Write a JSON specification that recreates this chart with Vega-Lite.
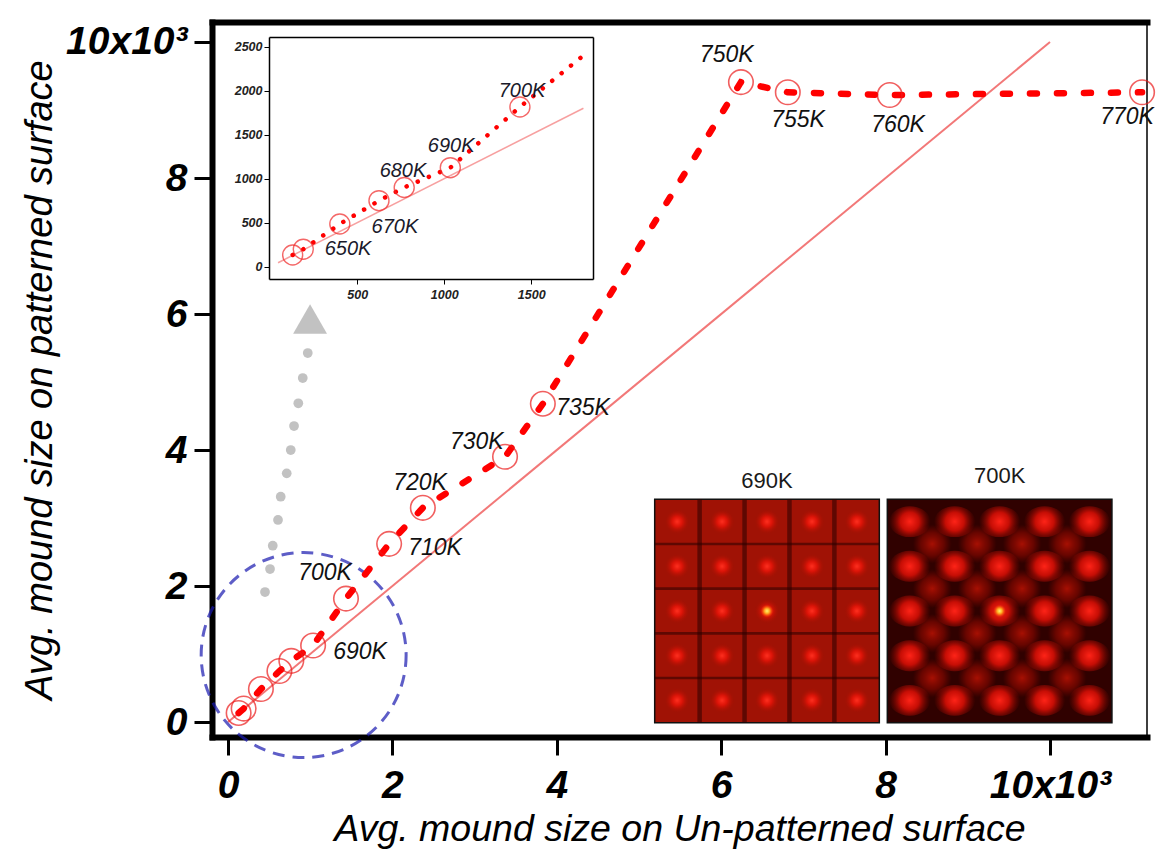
{
  "$schema": "https://vega.github.io/schema/vega-lite/v6.json",
  "width": 935,
  "height": 715,
  "autosize": {"type": "none"},
  "padding": {"left": 212, "top": 22, "right": 9, "bottom": 124},
  "background": "white",
  "config": {
    "view": {"stroke": "#000", "strokeWidth": 1.5},
    "font": "Liberation Sans",
    "axis": {"grid": false}
  },
  "datasets": {
    "pts": [
      {"temp": "640K", "x": 129, "y": 133},
      {"temp": "650K", "x": 190, "y": 198},
      {"temp": "660K", "x": 400, "y": 485},
      {"temp": "670K", "x": 625, "y": 750},
      {"temp": "680K", "x": 770, "y": 900},
      {"temp": "690K", "x": 1035, "y": 1125},
      {"temp": "700K", "x": 1435, "y": 1815},
      {"temp": "710K", "x": 1960, "y": 2620},
      {"temp": "720K", "x": 2370, "y": 3150},
      {"temp": "730K", "x": 3370, "y": 3900},
      {"temp": "735K", "x": 3830, "y": 4680},
      {"temp": "750K", "x": 6240, "y": 9410},
      {"temp": "755K", "x": 6810, "y": 9260},
      {"temp": "760K", "x": 8050, "y": 9220},
      {"temp": "770K", "x": 11120, "y": 9260}
    ],
    "insetLine": [
      {"x": 129, "y": 133},
      {"x": 190, "y": 198},
      {"x": 400, "y": 485},
      {"x": 625, "y": 750},
      {"x": 770, "y": 900},
      {"x": 1035, "y": 1125},
      {"x": 1435, "y": 1815},
      {"x": 1800, "y": 2400}
    ],
    "mainLabels": [
      {"label": "690K", "x": 1606, "y": 1029},
      {"label": "700K", "x": 1180, "y": 2191},
      {"label": "710K", "x": 2518, "y": 2559},
      {"label": "720K", "x": 2336, "y": 3515},
      {"label": "730K", "x": 3026, "y": 4122},
      {"label": "735K", "x": 4319, "y": 4618},
      {"label": "750K", "x": 6067, "y": 9809},
      {"label": "755K", "x": 6934, "y": 8853},
      {"label": "760K", "x": 8151, "y": 8779},
      {"label": "770K", "x": 10937, "y": 8897}
    ],
    "insetLabels": [
      {"label": "650K", "x": 447, "y": 201},
      {"label": "670K", "x": 717, "y": 451},
      {"label": "680K", "x": 763, "y": 1091},
      {"label": "690K", "x": 1040, "y": 1372},
      {"label": "700K", "x": 1447, "y": 2000}
    ],
    "diag": [{"x": 0, "y": 0}, {"x": 10000, "y": 10000}],
    "insetDiag": [{"x": 45, "y": 45}, {"x": 1800, "y": 1800}],
    "zoom": [{"x": 920, "y": 985}],
    "arrowDots": [
      {"x": 450, "y": 1912}, {"x": 511, "y": 2250}, {"x": 544, "y": 2593},
      {"x": 608, "y": 2971}, {"x": 641, "y": 3313}, {"x": 714, "y": 3657},
      {"x": 763, "y": 4000}, {"x": 803, "y": 4353}, {"x": 855, "y": 4687},
      {"x": 909, "y": 5059}, {"x": 970, "y": 5426}
    ],
    "arrowHead": [{"x": 998, "y": 5926}],
    "panels": [
      {"panel": "690K", "u0": 0, "u1": 5, "v0": 0, "v1": 5, "lu": 2.5, "lv": 5.42},
      {"panel": "700K", "u0": 5.178, "u1": 10.178, "v0": 0, "v1": 5, "lu": 7.678, "lv": 5.52}
    ],
    "p1lines": [
      {"u0": 0.95, "u1": 1.05, "v0": 0, "v1": 5},
      {"u0": 1.95, "u1": 2.05, "v0": 0, "v1": 5},
      {"u0": 2.95, "u1": 3.05, "v0": 0, "v1": 5},
      {"u0": 3.95, "u1": 4.05, "v0": 0, "v1": 5},
      {"u0": 0, "u1": 5, "v0": 0.97, "v1": 1.03},
      {"u0": 0, "u1": 5, "v0": 1.97, "v1": 2.03},
      {"u0": 0, "u1": 5, "v0": 2.97, "v1": 3.03},
      {"u0": 0, "u1": 5, "v0": 3.97, "v1": 4.03}
    ],
    "p2corners": [
      {"u": 6.178, "v": 1}, {"u": 7.178, "v": 1}, {"u": 8.178, "v": 1}, {"u": 9.178, "v": 1},
      {"u": 6.178, "v": 2}, {"u": 7.178, "v": 2}, {"u": 8.178, "v": 2}, {"u": 9.178, "v": 2},
      {"u": 6.178, "v": 3}, {"u": 7.178, "v": 3}, {"u": 8.178, "v": 3}, {"u": 9.178, "v": 3},
      {"u": 6.178, "v": 4}, {"u": 7.178, "v": 4}, {"u": 8.178, "v": 4}, {"u": 9.178, "v": 4}
    ],
    "spots": [
      {"panel": "690K", "u": 0.5, "v": 0.5}, {"panel": "690K", "u": 1.5, "v": 0.5}, {"panel": "690K", "u": 2.5, "v": 0.5}, {"panel": "690K", "u": 3.5, "v": 0.5}, {"panel": "690K", "u": 4.5, "v": 0.5},
      {"panel": "690K", "u": 0.5, "v": 1.5}, {"panel": "690K", "u": 1.5, "v": 1.5}, {"panel": "690K", "u": 2.5, "v": 1.5}, {"panel": "690K", "u": 3.5, "v": 1.5}, {"panel": "690K", "u": 4.5, "v": 1.5},
      {"panel": "690K", "u": 0.5, "v": 2.5}, {"panel": "690K", "u": 1.5, "v": 2.5}, {"panel": "690K", "u": 2.5, "v": 2.5}, {"panel": "690K", "u": 3.5, "v": 2.5}, {"panel": "690K", "u": 4.5, "v": 2.5},
      {"panel": "690K", "u": 0.5, "v": 3.5}, {"panel": "690K", "u": 1.5, "v": 3.5}, {"panel": "690K", "u": 2.5, "v": 3.5}, {"panel": "690K", "u": 3.5, "v": 3.5}, {"panel": "690K", "u": 4.5, "v": 3.5},
      {"panel": "690K", "u": 0.5, "v": 4.5}, {"panel": "690K", "u": 1.5, "v": 4.5}, {"panel": "690K", "u": 2.5, "v": 4.5}, {"panel": "690K", "u": 3.5, "v": 4.5}, {"panel": "690K", "u": 4.5, "v": 4.5},
      {"panel": "700K", "u": 5.678, "v": 0.5}, {"panel": "700K", "u": 6.678, "v": 0.5}, {"panel": "700K", "u": 7.678, "v": 0.5}, {"panel": "700K", "u": 8.678, "v": 0.5}, {"panel": "700K", "u": 9.678, "v": 0.5},
      {"panel": "700K", "u": 5.678, "v": 1.5}, {"panel": "700K", "u": 6.678, "v": 1.5}, {"panel": "700K", "u": 7.678, "v": 1.5}, {"panel": "700K", "u": 8.678, "v": 1.5}, {"panel": "700K", "u": 9.678, "v": 1.5},
      {"panel": "700K", "u": 5.678, "v": 2.5}, {"panel": "700K", "u": 6.678, "v": 2.5}, {"panel": "700K", "u": 7.678, "v": 2.5}, {"panel": "700K", "u": 8.678, "v": 2.5}, {"panel": "700K", "u": 9.678, "v": 2.5},
      {"panel": "700K", "u": 5.678, "v": 3.5}, {"panel": "700K", "u": 6.678, "v": 3.5}, {"panel": "700K", "u": 7.678, "v": 3.5}, {"panel": "700K", "u": 8.678, "v": 3.5}, {"panel": "700K", "u": 9.678, "v": 3.5},
      {"panel": "700K", "u": 5.678, "v": 4.5}, {"panel": "700K", "u": 6.678, "v": 4.5}, {"panel": "700K", "u": 7.678, "v": 4.5}, {"panel": "700K", "u": 8.678, "v": 4.5}, {"panel": "700K", "u": 9.678, "v": 4.5}
    ],
    "centers": [{"u": 2.5, "v": 2.5}, {"u": 7.678, "v": 2.5}]
  },
  "layer": [
    {
      "layer": [
        {
          "data": {"name": "diag"},
          "mark": {"type": "line", "color": "#f27878", "strokeWidth": 2},
          "encoding": {
            "x": {"field": "x", "type": "quantitative", "scale": {"domain": [-195, 11180], "nice": false, "zero": false},
                  "axis": {"orient": "bottom", "values": [0, 2000, 4000, 6000, 8000, 10000],
                           "labelExpr": "datum.value == 10000 ? '10x10³' : format(datum.value / 1000, 'd')",
                           "domainColor": "#000", "domainWidth": 6, "domainCap": "square",
                           "tickColor": "#000", "tickWidth": 3, "tickSize": 18,
                           "labelFontSize": 39, "labelFontWeight": "bold", "labelFontStyle": "italic", "labelColor": "#000",
                           "labelPadding": 11, "labelFlush": false, "labelOverlap": false,
                           "title": "Avg. mound size on Un-patterned surface", "titleFontSize": 37.5, "titleFontStyle": "italic",
                           "titleFontWeight": "normal", "titleColor": "#000", "titlePadding": 5}},
            "y": {"field": "y", "type": "quantitative", "scale": {"domain": [-220, 10294], "nice": false, "zero": false},
                  "axis": {"orient": "left", "values": [0, 2000, 4000, 6000, 8000, 10000],
                           "labelExpr": "datum.value == 10000 ? '10x10³' : format(datum.value / 1000, 'd')",
                           "domainColor": "#000", "domainWidth": 6, "domainCap": "square",
                           "tickColor": "#000", "tickWidth": 3, "tickSize": 18,
                           "labelFontSize": 39, "labelFontWeight": "bold", "labelFontStyle": "italic", "labelColor": "#000",
                           "labelPadding": 7, "labelFlush": false, "labelOverlap": false,
                           "title": "Avg. mound size on patterned surface", "titleFontSize": 38, "titleFontStyle": "italic",
                           "titleFontWeight": "normal", "titleColor": "#000", "titlePadding": 6}}
          }
        },
        {
          "data": {"name": "zoom"},
          "mark": {"type": "point", "shape": "circle", "size": 42000, "filled": false, "color": "#1a1ab0", "strokeWidth": 3, "strokeDash": [12, 8]},
          "encoding": {
            "x": {"field": "x", "type": "quantitative", "scale": {"domain": [-195, 11180], "nice": false, "zero": false},
                  "axis": {"orient": "top", "domainColor": "#000", "domainWidth": 6, "domainCap": "square", "ticks": false, "labels": false, "title": null}},
            "y": {"field": "y", "type": "quantitative", "scale": {"domain": [-220, 10294], "nice": false, "zero": false}, "axis": null}
          }
        },
        {
          "data": {"name": "pts"},
          "mark": {"type": "line", "color": "#ff0000", "strokeWidth": 6.5, "strokeDash": [7, 20], "strokeCap": "round"},
          "encoding": {
            "x": {"field": "x", "type": "quantitative", "scale": {"domain": [-195, 11180], "nice": false, "zero": false}, "axis": null},
            "y": {"field": "y", "type": "quantitative", "scale": {"domain": [-220, 10294], "nice": false, "zero": false}, "axis": null}
          }
        },
        {
          "data": {"name": "pts"},
          "mark": {"type": "point", "shape": "circle", "size": 600, "filled": false, "color": "#ec1c1c", "strokeWidth": 1.6},
          "encoding": {
            "x": {"field": "x", "type": "quantitative", "scale": {"domain": [-195, 11180], "nice": false, "zero": false}, "axis": null},
            "y": {"field": "y", "type": "quantitative", "scale": {"domain": [-220, 10294], "nice": false, "zero": false}, "axis": null}
          }
        },
        {
          "data": {"name": "mainLabels"},
          "mark": {"type": "text", "fontSize": 23, "fontStyle": "italic", "color": "#111", "align": "center", "baseline": "middle"},
          "encoding": {
            "x": {"field": "x", "type": "quantitative", "scale": {"domain": [-195, 11180], "nice": false, "zero": false}, "axis": null},
            "y": {"field": "y", "type": "quantitative", "scale": {"domain": [-220, 10294], "nice": false, "zero": false}, "axis": null},
            "text": {"field": "label"}
          }
        },
        {
          "data": {"name": "arrowDots"},
          "mark": {"type": "point", "shape": "circle", "size": 95, "filled": true, "color": "#c2c2c2", "opacity": 1},
          "encoding": {
            "x": {"field": "x", "type": "quantitative", "scale": {"domain": [-195, 11180], "nice": false, "zero": false}, "axis": null},
            "y": {"field": "y", "type": "quantitative", "scale": {"domain": [-220, 10294], "nice": false, "zero": false}, "axis": null}
          }
        },
        {
          "data": {"name": "arrowHead"},
          "mark": {"type": "point", "shape": "triangle-up", "size": 1150, "filled": true, "color": "#c2c2c2", "opacity": 1},
          "encoding": {
            "x": {"field": "x", "type": "quantitative", "scale": {"domain": [-195, 11180], "nice": false, "zero": false}, "axis": null},
            "y": {"field": "y", "type": "quantitative", "scale": {"domain": [-220, 10294], "nice": false, "zero": false}, "axis": null}
          }
        }
      ],
      "resolve": {"axis": {"x": "independent", "y": "independent"}}
    },
    {
      "layer": [
        {
          "data": {"name": "insetDiag"},
          "mark": {"type": "line", "color": "#f7a0a0", "strokeWidth": 1.5},
          "encoding": {
            "x": {"field": "x", "type": "quantitative", "scale": {"domain": [-7, 1855], "range": [57, 381], "nice": false, "zero": false},
                  "axis": {"orient": "bottom", "offset": -458, "values": [500, 1000, 1500], "format": "d",
                           "domainColor": "#000", "domainWidth": 1.5, "tickColor": "#000", "tickSize": 5, "tickWidth": 1,
                           "labelFontSize": 12.5, "labelFontWeight": "bold", "labelFontStyle": "italic", "labelColor": "#222",
                           "labelPadding": 4, "title": null}},
            "y": {"field": "y", "type": "quantitative", "scale": {"domain": [-140, 2610], "range": [257, 15], "nice": false, "zero": false},
                  "axis": {"orient": "left", "offset": -57, "values": [0, 500, 1000, 1500, 2000, 2500], "format": "d",
                           "domainColor": "#000", "domainWidth": 1.5, "tickColor": "#000", "tickSize": 5, "tickWidth": 1,
                           "labelFontSize": 12.5, "labelFontWeight": "bold", "labelFontStyle": "italic", "labelColor": "#222",
                           "labelPadding": 2, "title": null}}
          }
        },
        {
          "data": {"name": "insetLine"},
          "mark": {"type": "line", "color": "#ff0000", "strokeWidth": 4.5, "strokeDash": [0.1, 12], "strokeCap": "round"},
          "encoding": {
            "x": {"field": "x", "type": "quantitative", "scale": {"domain": [-7, 1855], "range": [57, 381], "nice": false, "zero": false},
                  "axis": {"orient": "top", "offset": -15, "domainColor": "#000", "domainWidth": 1.5, "ticks": false, "labels": false, "title": null}},
            "y": {"field": "y", "type": "quantitative", "scale": {"domain": [-140, 2610], "range": [257, 15], "nice": false, "zero": false},
                  "axis": {"orient": "right", "offset": -554, "domainColor": "#000", "domainWidth": 1.5, "ticks": false, "labels": false, "title": null}}
          }
        },
        {
          "data": {"name": "pts"},
          "transform": [{"filter": "datum.x < 1500"}],
          "mark": {"type": "point", "shape": "circle", "size": 400, "filled": false, "color": "#f02828", "strokeWidth": 1.4},
          "encoding": {
            "x": {"field": "x", "type": "quantitative", "scale": {"domain": [-7, 1855], "range": [57, 381], "nice": false, "zero": false}, "axis": null},
            "y": {"field": "y", "type": "quantitative", "scale": {"domain": [-140, 2610], "range": [257, 15], "nice": false, "zero": false}, "axis": null}
          }
        },
        {
          "data": {"name": "insetLabels"},
          "mark": {"type": "text", "fontSize": 20, "fontStyle": "italic", "color": "#1a1a2a", "align": "center", "baseline": "middle"},
          "encoding": {
            "x": {"field": "x", "type": "quantitative", "scale": {"domain": [-7, 1855], "range": [57, 381], "nice": false, "zero": false}, "axis": null},
            "y": {"field": "y", "type": "quantitative", "scale": {"domain": [-140, 2610], "range": [257, 15], "nice": false, "zero": false}, "axis": null},
            "text": {"field": "label"}
          }
        }
      ],
      "resolve": {"axis": {"x": "independent", "y": "independent"}}
    },
    {
      "layer": [
        {
          "data": {"name": "panels"},
          "mark": {"type": "rect", "stroke": "#111", "strokeWidth": 1.5},
          "encoding": {
            "x": {"field": "u0", "type": "quantitative", "scale": {"domain": [0, 10.195], "range": [442.7, 900.7], "nice": false, "zero": false}, "axis": null},
            "x2": {"field": "u1"},
            "y": {"field": "v0", "type": "quantitative", "scale": {"domain": [0, 5], "range": [700.7, 477.3], "nice": false, "zero": false}, "axis": null},
            "y2": {"field": "v1"},
            "fill": {"field": "panel", "type": "nominal", "scale": {"domain": ["690K", "700K"], "range": ["#a01205", "#300100"]}, "legend": null}
          }
        },
        {
          "data": {"name": "p1lines"},
          "mark": {"type": "rect", "color": "#2a0000", "opacity": 0.55},
          "encoding": {
            "x": {"field": "u0", "type": "quantitative", "axis": null},
            "x2": {"field": "u1"},
            "y": {"field": "v0", "type": "quantitative", "axis": null},
            "y2": {"field": "v1"}
          }
        },
        {
          "data": {"name": "p2corners"},
          "mark": {"type": "point", "shape": "circle", "size": 1500, "filled": true, "opacity": 1,
                   "fill": {"gradient": "radial", "stops": [{"offset": 0, "color": "#a81003"}, {"offset": 0.6, "color": "rgba(140,8,0,0.6)"}, {"offset": 1, "color": "rgba(120,5,0,0)"}]}},
          "encoding": {
            "x": {"field": "u", "type": "quantitative", "axis": null},
            "y": {"field": "v", "type": "quantitative", "axis": null}
          }
        },
        {
          "data": {"name": "spots"},
          "transform": [{"filter": "datum.panel == '690K'"}],
          "mark": {"type": "point", "shape": "circle", "size": 650, "filled": true, "opacity": 1,
                   "fill": {"gradient": "radial", "stops": [{"offset": 0, "color": "#ff3020"}, {"offset": 0.4, "color": "rgba(235,20,8,0.8)"}, {"offset": 1, "color": "rgba(160,15,0,0)"}]}},
          "encoding": {
            "x": {"field": "u", "type": "quantitative", "axis": null},
            "y": {"field": "v", "type": "quantitative", "axis": null}
          }
        },
        {
          "data": {"name": "spots"},
          "transform": [{"filter": "datum.panel == '700K'"}],
          "mark": {"type": "point", "shape": "M -1 0 A 1 0.75 0 1 0 1 0 A 1 0.75 0 1 0 -1 0 Z", "size": 1700, "filled": true, "opacity": 1,
                   "fill": {"gradient": "radial", "stops": [{"offset": 0, "color": "#ff2418"}, {"offset": 0.45, "color": "rgba(225,16,6,0.85)"}, {"offset": 1, "color": "rgba(150,8,0,0)"}]}},
          "encoding": {
            "x": {"field": "u", "type": "quantitative", "axis": null},
            "y": {"field": "v", "type": "quantitative", "axis": null}
          }
        },
        {
          "data": {"name": "centers"},
          "mark": {"type": "point", "shape": "circle", "size": 160, "filled": true, "opacity": 1,
                   "fill": {"gradient": "radial", "stops": [{"offset": 0, "color": "#fff27a"}, {"offset": 0.4, "color": "#ffb020"}, {"offset": 1, "color": "rgba(255,60,0,0)"}]}},
          "encoding": {
            "x": {"field": "u", "type": "quantitative", "axis": null},
            "y": {"field": "v", "type": "quantitative", "axis": null}
          }
        },
        {
          "data": {"name": "panels"},
          "mark": {"type": "text", "fontSize": 22, "color": "#1a1a1a", "align": "center", "baseline": "middle"},
          "encoding": {
            "x": {"field": "lu", "type": "quantitative", "axis": null},
            "y": {"field": "lv", "type": "quantitative", "axis": null},
            "text": {"field": "panel"}
          }
        }
      ]
    }
  ],
  "resolve": {"scale": {"x": "independent", "y": "independent"}}
}
